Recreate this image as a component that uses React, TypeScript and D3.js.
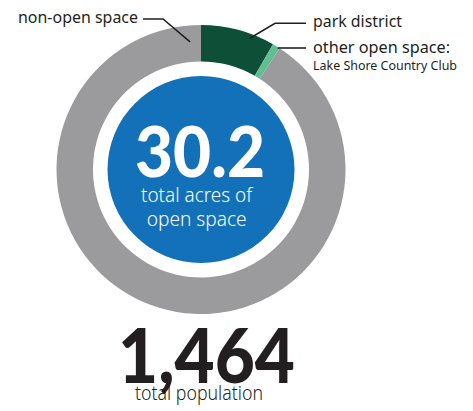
import React from "react";
import * as d3 from "d3";

const categories = ["park district", "other open space", "non-open space"];
const acres = [27.4, 2.8, 300];
const colors = ["#0e4f38", "#5fbf90", "#9b9b9d"];
const centerValue = "30.2";
const centerLabel = ["total acres of", "open space"];
const populationValue = "1,464";
const populationLabel = "total population";

const W = 473;
const H = 411;
const cx = 201;
const cy = 169.5;
const outerR = 144.5;
const innerR = 108;
const discR = 93.5;

export default function App() {
  const pie = d3.pie<number>().sort(null).value((d) => d)(acres);
  const arc = d3.arc<d3.PieArcDatum<number>>().innerRadius(innerR).outerRadius(outerR);
  const font = "'Noto Sans', 'Open Sans', sans-serif";
  const ink = "#231f20";
  const polar = (a: number, r: number): [number, number] => [cx + r * Math.sin(a), cy - r * Math.cos(a)];

  const deg = (x: number) => (x * Math.PI) / 180;
  const nonEnd = polar(deg(-4.9), 128);
  const parkEnd = polar(deg(20.4), 140);
  const otherEnd = polar((pie[1].startAngle + pie[1].endAngle) / 2 + deg(1), 143);

  return (
    <svg width={W} height={H} style={{ position: "absolute", left: 0, top: 0, background: "#fff" }}>
      <g transform={`translate(${cx},${cy})`}>
        {pie.map((p, i) => (
          <path key={categories[i]} d={arc(p) || ""} fill={colors[i]} />
        ))}
        <circle r={discR} fill="#1271b9" />
      </g>
      <g fill="none" stroke={ink} strokeWidth={1.6}>
        <polyline points={`143,19 163,19 ${nonEnd[0]},${nonEnd[1]}`} />
        <polyline points={`306,23.3 275,23.3 ${parkEnd[0]},${parkEnd[1]}`} />
        <polyline points={`306,48 ${otherEnd[0]},48`} />
      </g>
      <g fontFamily={font} fill={ink}>
        <text x={18} y={22.5} fontSize={16} textLength={120} lengthAdjust="spacingAndGlyphs">non-open space</text>
        <text x={313} y={26.5} fontSize={16} textLength={89} lengthAdjust="spacingAndGlyphs">{categories[0]}</text>
        <text x={313} y={53} fontSize={16} textLength={137} lengthAdjust="spacingAndGlyphs">other open space:</text>
        <text x={313} y={69.5} fontSize={12} textLength={144} lengthAdjust="spacingAndGlyphs">Lake Shore Country Club</text>
      </g>
      <g fill="#fff" textAnchor="middle">
        <text x={200} y={176.5} fontFamily="'Lato', 'DejaVu Sans', sans-serif" fontWeight={900} fontSize={70} textLength={130} lengthAdjust="spacingAndGlyphs">{centerValue}</text>
        <text x={196.5} y={201.5} fontFamily={font} fontWeight={300} fontSize={20} textLength={111} lengthAdjust="spacingAndGlyphs">{centerLabel[0]}</text>
        <text x={196.7} y={226} fontFamily={font} fontWeight={300} fontSize={20} textLength={100} lengthAdjust="spacingAndGlyphs">{centerLabel[1]}</text>
      </g>
      <text x={118} y={383} fill={ink} fontFamily="'Lato', 'DejaVu Sans', sans-serif" fontWeight={900} fontSize={76} textLength={177} lengthAdjust="spacingAndGlyphs">{populationValue}</text>
      <text x={135} y={400} fill={ink} fontFamily={font} fontWeight={300} fontSize={20} textLength={128} lengthAdjust="spacingAndGlyphs">{populationLabel}</text>
    </svg>
  );
}
